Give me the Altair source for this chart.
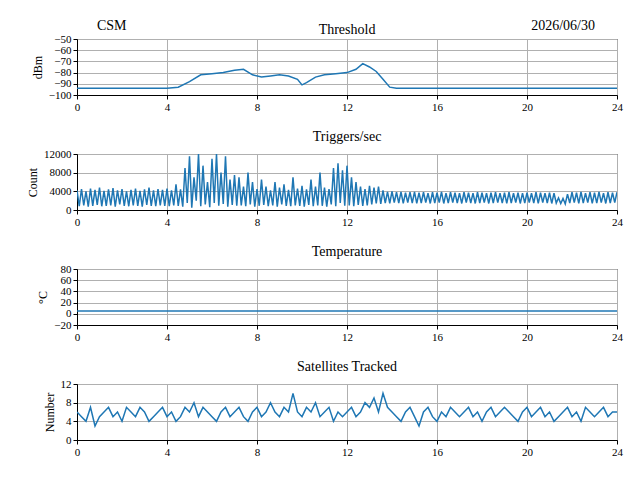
import altair as alt
import pandas as pd

FONT = "Liberation Serif"

# Threshold (hours, dBm)
thr_t = [0, 1, 2, 3, 4, 4.5, 5.0, 5.5, 6.0, 6.5, 7.0, 7.4, 7.8, 8.2, 8.6, 9.0, 9.4, 9.8, 10.0, 10.2, 10.6, 11.0, 11.5, 12.0, 12.4, 12.7, 13.0, 13.3, 13.6, 13.9, 14.2, 16, 18, 20, 22, 24]
thr_v = [-94, -94, -94, -94, -94, -93, -88, -82, -81, -80, -78, -77, -82, -84, -83, -82, -83, -86, -91, -89, -84, -82, -81, -80, -77, -72, -75, -79, -86, -93, -94, -94, -94, -94, -94, -94]

# Triggers/sec, alternating upper and lower envelope every 0.2 h
trig_hi = [4200, 4500, 4000, 4600, 4300, 4800, 4100, 4400, 4700, 4200, 4500, 4000, 4300, 4600, 4100, 4400, 4800, 4200, 4500, 4300,
           4600, 4200, 5500, 4400, 9000, 11500, 7000, 12000, 9500, 6000, 11000, 12000, 8000, 11500, 6500, 7500, 7000, 5000, 8000, 6000,
           4500, 6500, 5000, 4200, 6000, 4800, 5500, 4300, 7000, 4600, 5200, 4400, 6500, 5000, 8000, 4800, 4500, 9000, 10000, 8500,
           9500, 7000, 6000, 5000, 4500, 5200, 4800, 5000, 4200, 3900, 4000, 3800, 3900, 3700, 3800, 3900, 3700, 3800, 3600, 3800,
           3700, 3900, 3600, 3800, 3700, 3600, 3800, 3700, 3600, 3800, 3700, 3600, 3700, 3800, 3600, 3700, 3800, 3600, 3700, 3600,
           3700, 3600, 3800, 3700, 3600, 3700, 3600, 2600, 2500, 3400, 3800, 3700, 3900, 3600, 3800, 3700, 3900, 3600, 3800, 3700, 3800]
trig_lo = [800, 1000, 700, 900, 1100, 800, 900, 1000, 700, 1200, 900, 800, 1000, 900, 700, 1100, 900, 800, 1000, 900,
           800, 1000, 900, 700, 1500, 500, 2000, 800, 1200, 600, 1500, 900, 1300, 700, 1100, 900, 1000, 800, 1200, 700,
           900, 1100, 800, 1000, 700, 1200, 900, 800, 1000, 900, 700, 1100, 800, 1000, 900, 700, 1200, 800, 1500, 900,
           1000, 800, 1100, 900, 1000, 1200, 1400, 1300, 1500, 1400, 1600, 1500, 1400, 1600, 1500, 1400, 1500, 1600, 1400, 1500,
           1600, 1400, 1500, 1600, 1500, 1400, 1600, 1500, 1400, 1500, 1600, 1400, 1500, 1600, 1500, 1400, 1500, 1600, 1400, 1500,
           1600, 1500, 1400, 1600, 1500, 1400, 1500, 1400, 1300, 1500, 1600, 1400, 1500, 1600, 1400, 1500, 1600, 1400, 1500, 1600, 1500]

# Temperature (hours, °C)
temp_t = [0, 24]
temp_v = [5, 5]

# Satellites tracked every 0.2 h
sats = [6, 5, 4, 7, 3, 5, 6, 7, 5, 6, 4, 7, 6, 5, 7, 6, 4, 5, 6, 7, 5, 6, 4, 5, 7, 6, 8, 5, 7, 6,
        5, 4, 6, 7, 5, 6, 7, 5, 4, 6, 7, 5, 6, 8, 6, 5, 7, 6, 10, 6, 5, 7, 6, 8, 5, 6, 7, 4, 6, 5,
        6, 7, 5, 6, 8, 7, 9, 6, 10, 7, 6, 5, 4, 6, 7, 5, 3, 6, 7, 5, 4, 6, 5, 7, 6, 5, 6, 7, 5, 6,
        4, 6, 7, 5, 6, 7, 6, 5, 4, 6, 7, 5, 6, 7, 5, 6, 4, 5, 6, 7, 5, 6, 4, 7, 6, 5, 6, 7, 5, 6, 6]

W, H = 540, 56
BLUE = "#1f77b4"

thr_df = pd.DataFrame({"t": thr_t, "v": thr_v})
tr_rows = []
for i, (h, l) in enumerate(zip(trig_hi, trig_lo)):
    tr_rows.append({"t": i * 0.2, "v": h})
    tr_rows.append({"t": i * 0.2 + 0.1, "v": l})
tr_df = pd.DataFrame(tr_rows[:-1])
temp_df = pd.DataFrame({"t": temp_t, "v": temp_v})
sat_df = pd.DataFrame({"t": [i * 0.2 for i in range(len(sats))], "v": sats})

xax = alt.X("t:Q", scale=alt.Scale(domain=[0, 24], nice=False),
            axis=alt.Axis(values=[0, 4, 8, 12, 16, 20, 24], title=None))


def panel(df, title, ytitle, dom, yvals, dy=0):
    return alt.Chart(df, title=alt.TitleParams(title, dy=dy)).mark_line(
        color=BLUE, strokeWidth=1.5, clip=True
    ).encode(
        x=xax,
        y=alt.Y("v:Q", scale=alt.Scale(domain=dom, nice=False),
                axis=alt.Axis(values=yvals, title=ytitle, format="d")),
    ).properties(width=W, height=H)


p1 = panel(thr_df, "Threshold", "dBm", [-100, -50], [-100, -90, -80, -70, -60, -50], dy=22)
side = alt.Chart(pd.DataFrame({"a": ["CSM"], "b": ["2026/06/30"]}))
left = side.mark_text(font=FONT, fontSize=14, align="left", baseline="bottom").encode(
    x=alt.value(20), y=alt.value(-6), text="a:N")
right = side.mark_text(font=FONT, fontSize=14, align="right", baseline="bottom").encode(
    x=alt.value(518), y=alt.value(-6), text="b:N")
p1 = alt.layer(p1, left, right)
p2 = panel(tr_df, "Triggers/sec", "Count", [0, 12000], [0, 4000, 8000, 12000])
p3 = panel(temp_df, "Temperature", "°C", [-20, 80], [-20, 0, 20, 40, 60, 80])
p4 = panel(sat_df, "Satellites Tracked", "Number", [0, 12], [0, 4, 8, 12])

chart = alt.vconcat(p1, p2, p3, p4, spacing=16).properties(
    padding={"top": 10, "left": 18, "right": 5, "bottom": 0}
).configure(font=FONT).configure_view(
    stroke="black", strokeWidth=1
).configure_axis(
    labelFont=FONT, titleFont=FONT, labelFontSize=11, titleFontSize=12,
    titleFontWeight="normal", labelColor="black", titleColor="black",
    domainColor="black", tickColor="black", gridColor="#b0b0b0",
    tickSize=4, labelPadding=2, titlePadding=4, labelOverlap=False,
    labelFlush=False
).configure_title(font=FONT, fontSize=14, fontWeight="normal", offset=4)

chart.save("out.html", embed_options={"renderer": "svg", "actions": False})
